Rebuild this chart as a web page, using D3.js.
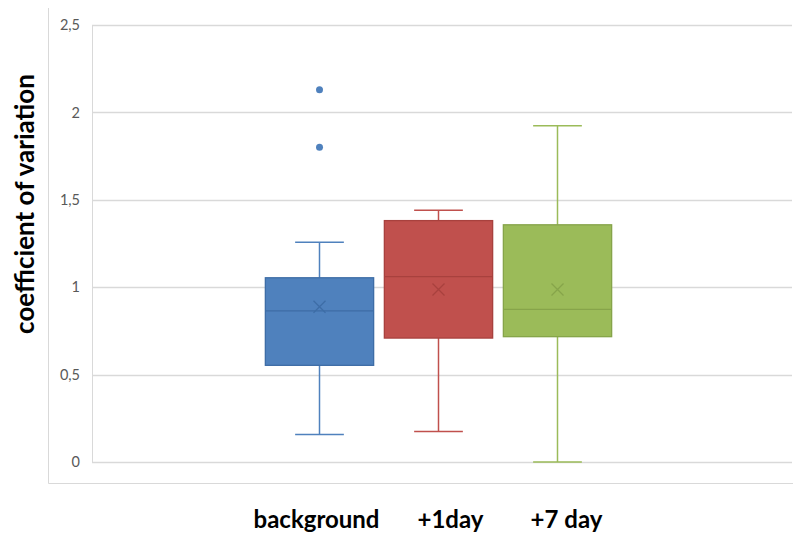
<!DOCTYPE html>
<html>
<head>
<meta charset="utf-8">
<script src="https://d3js.org/d3.v7.min.js"></script>
<style>
    body { margin: 0; background: #fff; }
    svg { display: block; }
</style>
</head>
<body>
<div id="chart"></div>
<script>
// Data
const categories = ['background', '+1day', '+7 day'];
const whiskerLow = [0.158, 0.175, 0.0];
const q1 = [0.553, 0.709, 0.717];
const median = [0.865, 1.061, 0.873];
const q3 = [1.054, 1.381, 1.357];
const whiskerHigh = [1.257, 1.44, 1.924];
const means = [0.888, 0.987, 0.987];
const outliers = [[2.13, 1.80], [], []];
const yTicks = [0, 0.5, 1, 1.5, 2, 2.5];

const fills = ['#4F81BD', '#C0504D', '#9BBB59'];
const strokes = ['#3E6DA6', '#A8413E', '#86A44A'];

const width = 794, height = 538;
const plot = { left: 92, right: 792, top: 25, bottom: 462 };

const svg = d3.select('#chart')
    .append('svg')
    .attr('width', width)
    .attr('height', height);

// Chart area border (only left and bottom visible)
svg.append('path')
    .attr('d', `M48.5,8 V483.5 H793`)
    .attr('fill', 'none')
    .attr('stroke', '#d9d9d9')
    .attr('stroke-width', 1);

const y = d3.scaleLinear()
    .domain([0, 2.5])
    .range([plot.bottom, plot.top]);

const x = d3.scaleBand()
    .domain(categories)
    .range([260, 617])
    .paddingInner(0.09)
    .paddingOuter(0.045);

const fmt = d => String(d).replace('.', ',');

// Gridlines
svg.append('g')
    .selectAll('line')
    .data(yTicks)
    .join('line')
    .attr('x1', plot.left)
    .attr('x2', plot.right)
    .attr('y1', d => Math.round(y(d)) + 0.5)
    .attr('y2', d => Math.round(y(d)) + 0.5)
    .attr('stroke', '#d9d9d9')
    .attr('stroke-width', 1.3);

// Plot area left edge
svg.append('line')
    .attr('x1', plot.left + 0.5)
    .attr('x2', plot.left + 0.5)
    .attr('y1', plot.top)
    .attr('y2', plot.bottom)
    .attr('stroke', '#d9d9d9');

// Y axis labels
const yAxis = d3.axisLeft(y).tickValues(yTicks).tickFormat(fmt).tickSize(0).tickPadding(12);
const yg = svg.append('g')
    .attr('transform', `translate(${plot.left},0)`)
    .call(yAxis);
yg.select('.domain').remove();
yg.selectAll('text')
    .attr('fill', '#595959')
    .attr('font-family', 'Lato, "Open Sans", sans-serif')
    .attr('font-size', 14.5);

// Y axis title
svg.append('text')
    .attr('transform', 'translate(34,204) rotate(-90)')
    .attr('text-anchor', 'middle')
    .attr('font-family', 'Lato, "Open Sans", sans-serif')
    .attr('font-weight', 'bold')
    .attr('font-size', 26)
    .attr('fill', '#000')
    .text('coefficient of variation');

// Boxes
const boxes = categories.map((c, i) => ({
    cat: c, i: i,
    lo: whiskerLow[i], q1: q1[i], med: median[i], q3: q3[i], hi: whiskerHigh[i],
    mean: means[i], out: outliers[i]
}));

const bw = x.bandwidth();
const capW = bw * 0.45;

const grp = svg.append('g')
    .selectAll('g')
    .data(boxes)
    .join('g')
    .attr('transform', d => `translate(${x(d.cat)},0)`);

// whiskers
grp.append('line')
    .attr('x1', bw / 2).attr('x2', bw / 2)
    .attr('y1', d => y(d.hi)).attr('y2', d => y(d.q3))
    .attr('stroke', d => fills[d.i]).attr('stroke-width', 1.5);
grp.append('line')
    .attr('x1', bw / 2).attr('x2', bw / 2)
    .attr('y1', d => y(d.q1)).attr('y2', d => y(d.lo))
    .attr('stroke', d => fills[d.i]).attr('stroke-width', 1.5);
grp.selectAll('.cap')
    .data(d => [d.hi, d.lo].map(v => ({ v: v, i: d.i })))
    .join('line')
    .attr('class', 'cap')
    .attr('x1', bw / 2 - capW / 2).attr('x2', bw / 2 + capW / 2)
    .attr('y1', d => y(d.v)).attr('y2', d => y(d.v))
    .attr('stroke', d => fills[d.i]).attr('stroke-width', 1.5);

// box
grp.append('rect')
    .attr('x', 0)
    .attr('width', bw)
    .attr('y', d => y(d.q3))
    .attr('height', d => y(d.q1) - y(d.q3))
    .attr('fill', d => fills[d.i])
    .attr('stroke', d => strokes[d.i])
    .attr('stroke-width', 1.3);

// median
grp.append('line')
    .attr('x1', 0).attr('x2', bw)
    .attr('y1', d => y(d.med)).attr('y2', d => y(d.med))
    .attr('stroke', d => strokes[d.i]).attr('stroke-width', 1.3);

// mean marker
const ms = 6;
grp.append('path')
    .attr('d', d => {
        const cx = bw / 2, cy = y(d.mean);
        return `M${cx - ms},${cy - ms}L${cx + ms},${cy + ms}M${cx - ms},${cy + ms}L${cx + ms},${cy - ms}`;
    })
    .attr('stroke', d => strokes[d.i])
    .attr('stroke-width', 1.3)
    .attr('fill', 'none');

// outliers
grp.selectAll('.out')
    .data(d => d.out.map(v => ({ v: v, i: d.i })))
    .join('circle')
    .attr('class', 'out')
    .attr('cx', bw / 2)
    .attr('cy', d => y(d.v))
    .attr('r', 3.5)
    .attr('fill', d => fills[d.i]);

// Category labels (nudged to where they sit in the picture)
const labelNudge = [-3, 12, 9];
svg.append('g')
    .selectAll('text')
    .data(categories)
    .join('text')
    .attr('x', (d, i) => x(d) + bw / 2 + labelNudge[i])
    .attr('y', 528)
    .attr('text-anchor', 'middle')
    .attr('font-family', 'Lato, "Open Sans", sans-serif')
    .attr('font-weight', 'bold')
    .attr('font-size', 24)
    .attr('fill', '#000')
    .text(d => d);
</script>
</body>
</html>
